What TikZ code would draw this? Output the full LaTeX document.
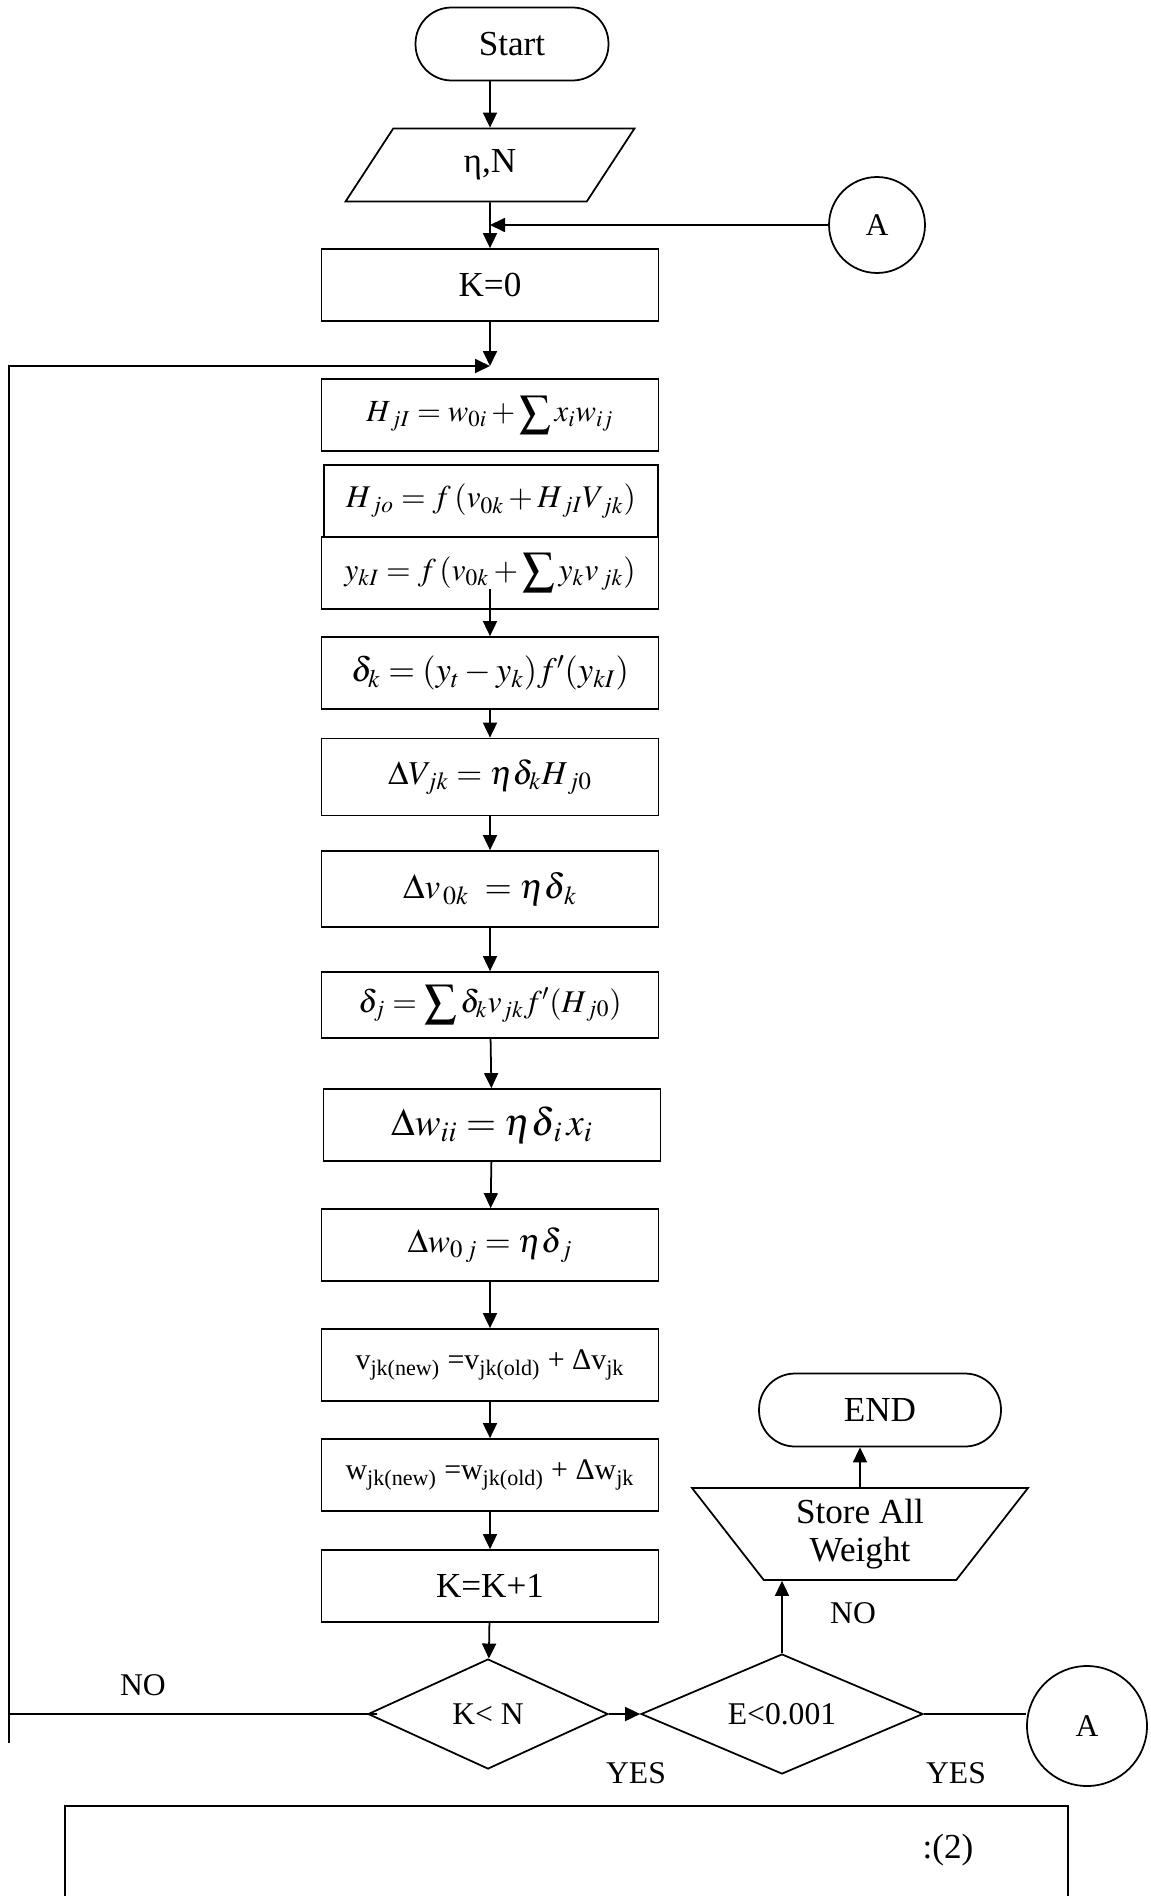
\documentclass[tikz,border=0pt]{standalone}
\usepackage{mathptmx}
\usepackage{fontspec}
\setmainfont{Liberation Serif}
\usetikzlibrary{arrows.meta,shapes.geometric,positioning}
\newcommand{\bsum}{\mathop{\raisebox{-0.3ex}{\scalebox{1.45}{$\sum$}}}}

\begin{document}
\begin{tikzpicture}[x=0.02cm,y=-0.02cm,line width=1pt,
  >={Triangle[length=0.3cm,width=0.28cm]},
  blk/.style={draw,minimum width=6.74cm,minimum height=1.44cm,inner sep=0pt,
    font=\fontsize{18}{22}\selectfont},
  term/.style={draw,rounded corners=0.72cm,minimum height=1.46cm,inner sep=0pt,
    font=\fontsize{20}{24}\selectfont},
  dec/.style={draw,diamond,aspect=2.2,inner sep=0pt,font=\fontsize{18}{22}\selectfont},
  conn/.style={draw,circle,minimum size=1.92cm,inner sep=0pt,font=\fontsize{18}{22}\selectfont},
  lbl/.style={font=\fontsize{18}{22}\selectfont}]
\useasboundingbox (0,0) rectangle (1151,1896);
% ---------- input and start of loop ----------
\node[term,minimum width=3.86cm] (start) at (512,44) {Start};
\node[draw,trapezium,trapezium stretches=true,trapezium left angle=67,trapezium right angle=113,
  minimum width=5.78cm,minimum height=1.46cm,inner sep=0pt,font=\fontsize{20}{24}\selectfont]
  (param) at (490,165) {η,N};
\node[conn,minimum size=1.92cm] (a1) at (877,225) {A};
\coordinate (ajoin) at (490,225);
\node[blk,font=\fontsize{20}{24}\selectfont] (k0) at (490,285) {K=0};
\coordinate (jn) at (490,366);
% ---------- forward pass ----------
\node[blk,font=\fontsize{17.5}{21}\selectfont] (hji) at (490,415) {$H_{\,jI}=w_{0i}+\bsum x_i w_{ij}$};
\node[blk,minimum width=6.68cm] (hjo) at (491,501) {$H_{\,jo}=f\,(v_{0k}+H_{\,jI}V_{\,jk})$};
\node[blk] (yki) at (490,573) {$y_{kI}=f\,(v_{0k}+\bsum y_k v_{\,jk})$};
% ---------- backward pass ----------
\node[blk,font=\fontsize{19.5}{23}\selectfont] (dk) at (490,673) {$\delta_k=(y_t-y_k)f'(y_{kI})$};
\node[blk,minimum height=1.54cm,font=\fontsize{19}{23}\selectfont] (dvjk) at (490,777) {$\Delta V_{jk}=\eta\delta_k H_{\,j0}$};
\node[blk,minimum height=1.52cm,font=\fontsize{20}{24}\selectfont] (dv0k) at (490,889) {$\Delta v_{\,0k}\;=\eta\delta_{\,k}$};
\node[blk,minimum height=1.32cm] (dj) at (490,1005) {$\delta_j=\bsum\delta_k v_{jk}f'(H_{\,j0})$};
\node[blk,font=\fontsize{22}{26}\selectfont] (dwii) at (492,1125) {$\Delta w_{ii}=\eta\delta_{\,i}\,x_i$};
\node[blk,font=\fontsize{19}{23}\selectfont] (dw0j) at (490,1245) {$\Delta w_{0\,j}=\eta\delta_{\,j}$};
% ---------- weight update ----------
\node[blk,font=\fontsize{17}{20}\selectfont] (vnew) at (490,1365)
  {v\textsubscript{jk(new)} =v\textsubscript{jk(old)} + Δv\textsubscript{jk}};
\node[blk,font=\fontsize{17}{20}\selectfont] (wnew) at (490,1475)
  {w\textsubscript{jk(new)} =w\textsubscript{jk(old)} + Δw\textsubscript{jk}};
\node[blk,font=\fontsize{20}{24}\selectfont] (kk1) at (490,1586) {K=K+1};
% ---------- tests ----------
\node[dec,minimum width=4.8cm,minimum height=2.2cm] (kn) at (488,1714) {K< N};
\node[dec,minimum width=5.64cm,minimum height=2.4cm] (err) at (782,1714) {E<0.001};
\node[conn,minimum size=2.4cm] (a2) at (1087,1726) {A};
\node[draw,trapezium,trapezium stretches=true,trapezium left angle=124,trapezium right angle=124,
  minimum width=6.72cm,minimum height=1.84cm,inner sep=0pt,align=center,
  font=\fontsize{20}{22}\selectfont] (store) at (860,1534) {Store All\\Weight};
\node[term,minimum width=4.84cm] (fin) at (880,1410) {END};
\coordinate (lpt) at (9,366);
\coordinate (lpb) at (9,1743);
% ---------- connectors ----------
\draw[->] (param.north |- start.south) -- (param.north);
\draw[->] (param) -- (k0);
\draw[->] (a1) -- (ajoin);
\draw[->] (k0) -- (jn);
\draw[->] (lpb) -- (lpt) -- (jn);
\draw (kn.west) -- ++(10,0) -- (kn.west -| lpt);
\draw[->] ([yshift=0.42cm]yki.south) -- (dk);
\draw[->] (dk) -- (dvjk);
\draw[->] (dvjk) -- (dv0k);
\draw[->] (dv0k) -- (dj);
\draw[->] (dj) -- (dwii);
\draw[->] (dwii) -- (dw0j);
\draw[->] (dw0j) -- (vnew);
\draw[->] (vnew) -- (wnew);
\draw[->] (wnew) -- (kk1);
\draw[->] (kk1) -- (kn);
\draw[->] (kn) -- (err);
\draw (err.east) -- (a2.west |- err.east);
\draw[->] (err.north) -- (err.north |- store.south);
\draw[->] (store.north) -- (store.north |- fin.south);
% ---------- labels ----------
\node[lbl] (no1) at (143,1685) {NO};
\node[lbl] (no2) at (853,1613) {NO};
\node[lbl] (yes1) at (636,1773) {YES};
\node[lbl] (yes2) at (956,1773) {YES};
% ---------- caption box ----------
\draw (65,1806) rectangle (1068,1930);
\node[lbl,font=\fontsize{20}{24}\selectfont] (cap) at (948,1850) {:(2)};
\end{tikzpicture}
\end{document}
